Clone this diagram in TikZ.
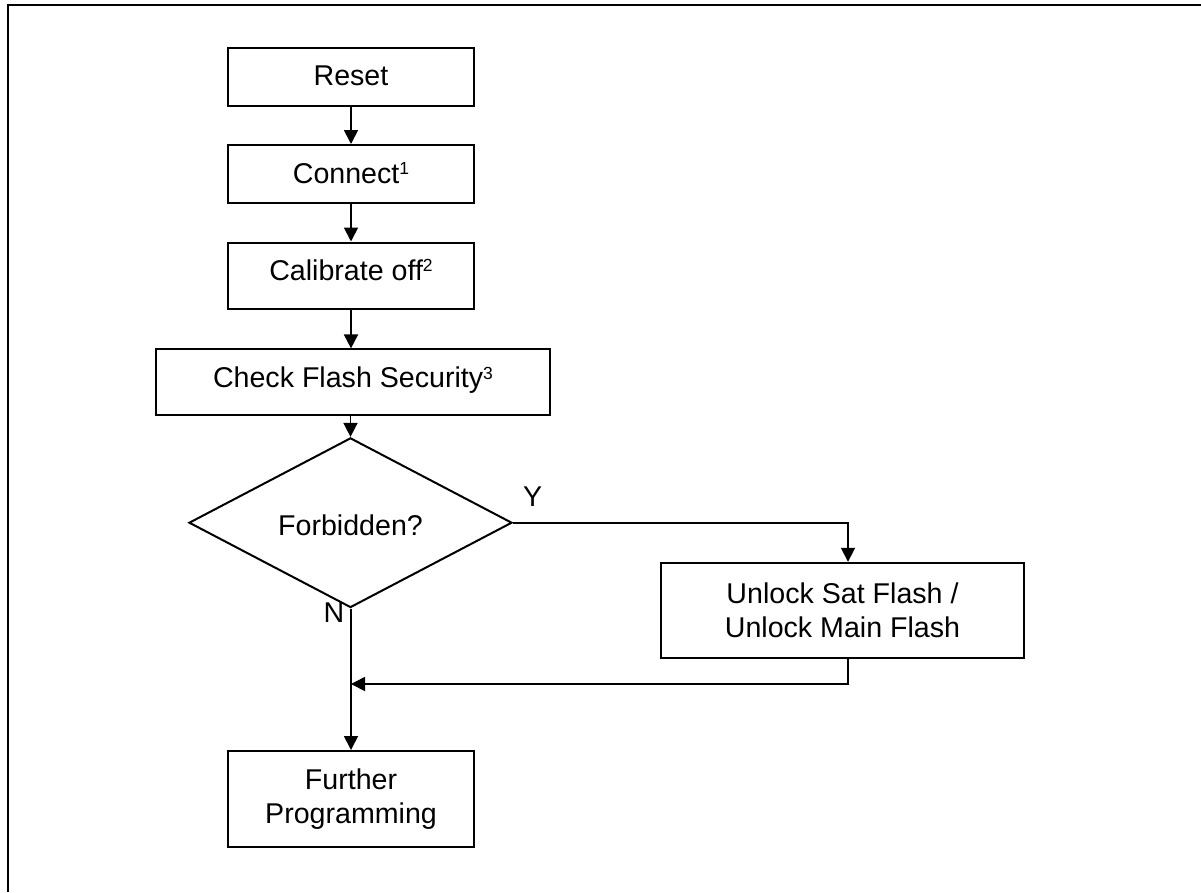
\documentclass[tikz,border=0pt]{standalone}
\usepackage{fontspec}
\setmainfont{Liberation Sans}
\usetikzlibrary{arrows.meta,shapes.geometric}
\newcommand\supnum[1]{\raisebox{8.3pt}{\fontsize{17.5}{17.5}\selectfont#1}}
\begin{document}
\begin{tikzpicture}[x=1pt,y=-1pt,
  every node/.style={font=\fontsize{28.6}{34}\selectfont},
  box/.style={draw,line width=2pt,rectangle,inner sep=0pt},
  dec/.style={draw,line width=2pt,diamond,inner sep=0pt,minimum width=323pt,minimum height=135pt},
  conn/.style={line width=1.8pt,-{Triangle[width=14pt,length=14pt]}},
  lbl/.style={inner sep=0pt}]
\useasboundingbox (0,0) rectangle (1201,892);
\draw[line width=2.5pt] (7.8,892) -- (7.8,5) -- (1201,5);

\node[box,minimum width=246pt,minimum height=58pt,text height=21pt,text depth=3pt] (reset) at (351,76.5) {Reset};
\node[box,minimum width=246pt,minimum height=58pt,text height=21pt,text depth=3pt] (connect) at (351,174) {Connect\supnum{1}};
\node[box,minimum width=246pt,minimum height=66pt,text height=21pt,text depth=12pt] (calib) at (351,275.5) {Calibrate off\supnum{2}};
\node[box,minimum width=394pt,minimum height=66pt,text height=21pt,text depth=10pt] (check) at (353,382.4) {Check Flash Security\supnum{3}};
\node[dec,text height=25pt,text depth=0pt] (forb) at (350.5,522.7) {Forbidden?};
\node[box,minimum width=363pt,minimum height=95pt,align=center] (unlock) at (842.5,610.3) {Unlock Sat Flash /\\Unlock Main Flash};
\node[box,minimum width=246pt,minimum height=96pt,align=center] (further) at (351,799) {Further\\Programming};

\coordinate (ycol) at (848,522.7);
\coordinate (ret) at (848,684);
\coordinate (merge) at (351,684);

\draw[conn] (reset) -- (connect);
\draw[conn] (connect) -- (calib);
\draw[conn] (calib.south) -- (calib.south |- check.north);
\draw[conn] (forb.north |- check.south) -- (forb.north);
\draw[conn] (forb.east) -- (ycol) -- (ycol |- unlock.north);
\draw[conn] (ycol |- unlock.south) -- (ret) -- (merge);
\draw[conn] (further.north |- forb.south) -- (further.north);

\node[lbl] (ylab) at (532.7,496.7) {Y};
\node[lbl] (nlab) at (334,613) {N};
\end{tikzpicture}
\end{document}
